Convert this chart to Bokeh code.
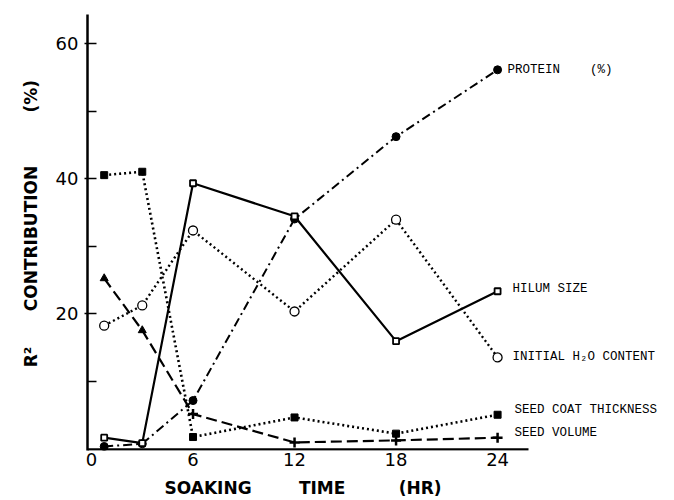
from bokeh.plotting import figure
from bokeh.models import Range1d, FixedTicker, Label
from bokeh.embed import file_html
from bokeh.resources import INLINE

# ---- data ----
hours = [0.75, 3, 6, 12, 18, 24]
protein = [0.3, 0.7, 7.1, 34.0, 46.2, 56.1]
hilum_size = [1.6, 0.8, 39.3, 34.4, 15.9, 23.3]
initial_h2o = [18.2, 21.2, 32.3, 20.3, 33.9, 13.5]
seed_coat = [40.5, 41.0, 1.7, 4.6, 2.2, 5.0]
seed_volume = [25.2, 17.5, 5.1, 0.9, 1.2, 1.6]
x_ticks = [0, 6, 12, 18, 24]
y_ticks = [20, 40, 60]
y_minor = [10, 30, 50]
NB = "\u00a0"
series_names = ["PROTEIN" + NB * 4 + "(%)", "HILUM SIZE", "INITIAL H\u2082O CONTENT",
                "SEED COAT THICKNESS", "SEED VOLUME"]
x_title = "SOAKING" + NB * 8 + "TIME" + NB * 9 + "(HR)" + NB * 25
y_title = NB * 3 + "R\u00b2" + NB * 6 + "CONTRIBUTION" + NB * 9 + "(%)"

# ---- layout (pixels) ----
FIG_W, FIG_H = 666, 500
BL, BR, BT, BB = 87, 0, 14, 50
PX_PER_X = 16.92     # pixels per hour
PX_PER_Y = 6.75      # pixels per percent
X0 = -4 / PX_PER_X
X1 = X0 + (FIG_W - BL - BR) / PX_PER_X
Y0 = -2 / PX_PER_Y
Y1 = Y0 + (FIG_H - BT - BB) / PX_PER_Y
X_AXIS_END = X0 + 441 / PX_PER_X
X_AXIS_Y = Y0 + 1 / PX_PER_Y

p = figure(width=FIG_W, height=FIG_H, output_backend="svg", toolbar_location=None,
           x_range=Range1d(X0, X1), y_range=Range1d(Y0, Y1),
           min_border_left=BL, min_border_right=BR, min_border_top=BT,
           min_border_bottom=BB)
p.outline_line_color = None
p.xgrid.visible = False
p.ygrid.visible = False
p.background_fill_color = "white"
p.border_fill_color = "white"

tick_font = "DejaVu Sans"
title_font = "DejaVu Sans"

p.yaxis.ticker = FixedTicker(ticks=y_ticks, minor_ticks=y_minor)
p.yaxis.axis_line_width = 2.5
p.yaxis.major_tick_in = 9
p.yaxis.major_tick_out = 3
p.yaxis.minor_tick_in = 9
p.yaxis.minor_tick_out = 0
p.yaxis.major_tick_line_width = 1.5
p.yaxis.minor_tick_line_width = 1.5
p.yaxis.major_label_standoff = 6
p.yaxis.major_label_text_font = tick_font
p.yaxis.major_label_text_font_size = "18px"
p.yaxis.major_label_text_color = "black"
p.yaxis.axis_label = y_title
p.yaxis.axis_label_text_font = title_font
p.yaxis.axis_label_text_font_size = "17px"
p.yaxis.axis_label_text_font_style = "bold"
p.yaxis.axis_label_text_color = "black"
p.yaxis.axis_label_standoff = 12

p.xaxis.ticker = FixedTicker(ticks=x_ticks)
p.xaxis.axis_line_color = None
p.xaxis.major_tick_in = 0
p.xaxis.major_tick_out = 0
p.xaxis.minor_tick_line_color = None
p.xaxis.major_label_standoff = 2
p.xaxis.major_label_text_font = tick_font
p.xaxis.major_label_text_font_size = "18px"
p.xaxis.major_label_text_color = "black"
p.xaxis.axis_label = x_title
p.xaxis.axis_label_text_font = title_font
p.xaxis.axis_label_text_font_size = "17px"
p.xaxis.axis_label_text_font_style = "bold"
p.xaxis.axis_label_text_color = "black"
p.xaxis.axis_label_standoff = 9

# x axis line, ending short of the labels
p.segment(x0=[X0], y0=[X_AXIS_Y], x1=[X_AXIS_END], y1=[X_AXIS_Y],
          line_color="black", line_width=2.5)

# ---- series ----
# protein: dash-dot, filled circles
p.line(hours, protein, line_color="black", line_width=2, line_dash="9 4 2 4")
p.scatter(hours, protein, marker="circle", size=8, fill_color="black", line_color="black")

# hilum size: solid, small squares
p.line(hours, hilum_size, line_color="black", line_width=2.2)
p.scatter(hours, hilum_size, marker="square", size=6, fill_color="white",
          line_color="black", line_width=1.8)

# initial H2O content: dotted, open circles
p.line(hours, initial_h2o, line_color="black", line_width=2.4, line_dash="2 3")
p.scatter(hours, initial_h2o, marker="circle", size=9, fill_color="white",
          line_color="black", line_width=1.3)

# seed coat thickness: dotted, filled squares
p.line(hours, seed_coat, line_color="black", line_width=2.6, line_dash="2 3")
p.scatter(hours, seed_coat, marker="square", size=7, fill_color="black", line_color="black")

# seed volume: long dashes, triangles then crosses
p.line(hours, seed_volume, line_color="black", line_width=2.2, line_dash="11 5")
p.scatter(hours[:2], seed_volume[:2], marker="triangle", size=8, fill_color="black",
          line_color="black")
p.scatter(hours[2:], seed_volume[2:], marker="cross", size=10, line_color="black",
          line_width=2.5)

# ---- series labels at the right ----
last_vals = [protein[-1], hilum_size[-1], initial_h2o[-1], seed_coat[-1], seed_volume[-1]]
offsets = [(10, 0), (15, 2), (15, 0), (17, 5), (17, 5)]
for name, v, (dx, dy) in zip(series_names, last_vals, offsets):
    p.add_layout(Label(x=hours[-1], y=v, x_offset=dx, y_offset=dy, text=name,
                       text_font="Liberation Mono", text_font_size="12.5px",
                       text_baseline="middle", text_align="left", text_color="black"))

open("out.html", "w").write(file_html(p, INLINE))
